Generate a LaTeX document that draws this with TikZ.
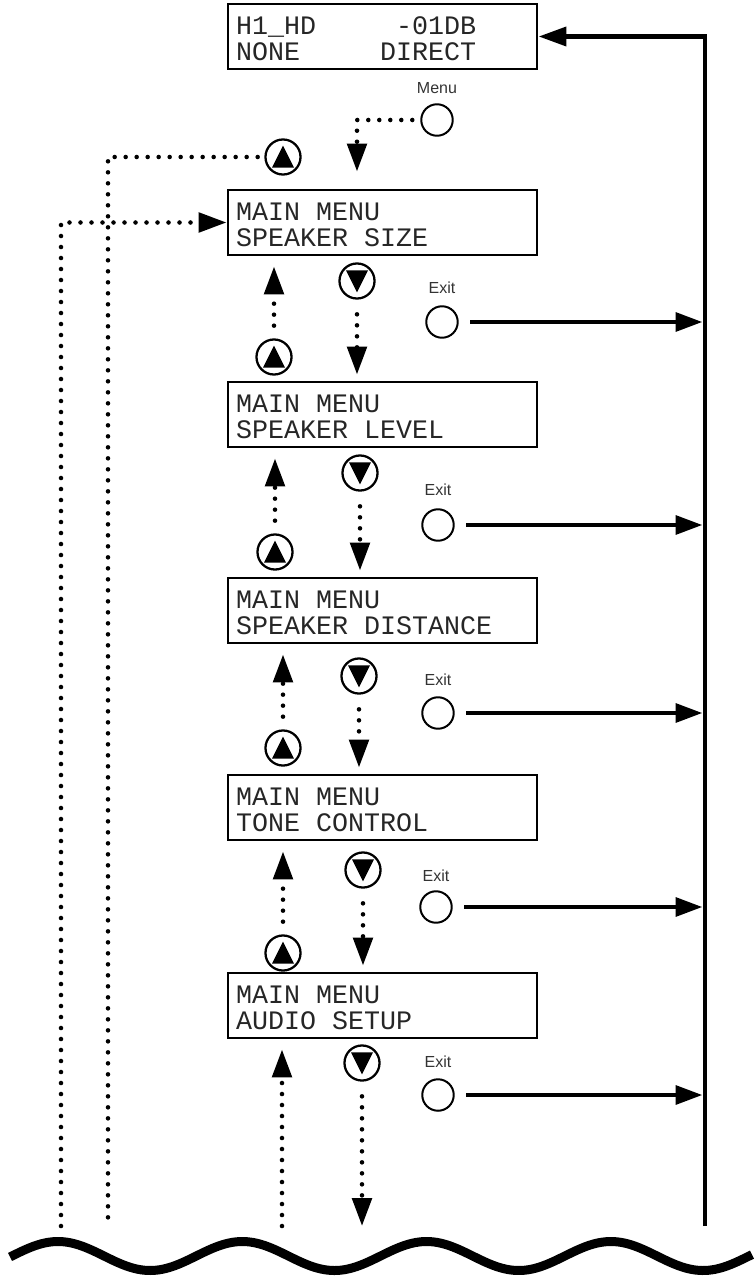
\documentclass[tikz,border=0pt]{standalone}
\usepackage{fontspec}
\setmainfont{Liberation Sans}
\newfontfamily\lcdfont{Liberation Mono}
\newcommand\lcdsp{\hspace*{12pt}}
\usetikzlibrary{arrows.meta}

\begin{document}
\begin{tikzpicture}[x=0.75pt, y=-0.75pt,
    lcd/.style={draw, line width=2.2pt, rectangle, text width=219.75pt,
        minimum height=48.75pt, inner xsep=6pt, align=left, text height=17pt,
        text=black!85, font=\lcdfont\fontsize{20}{19.5}\selectfont},
    key/.style={draw, circle, line width=1.5pt, minimum size=23.6pt, inner sep=0pt},
    btn/.style={draw, circle, line width=1.7pt, minimum size=26.3pt, inner sep=0pt},
    upbtn/.style={btn, path picture={\fill ([yshift=8.6pt]path picture bounding box.center)
        -- ++(-8.25pt,-16.5pt) -- ++(16.5pt,0pt) -- cycle;}},
    dnbtn/.style={btn, path picture={\fill ([yshift=-8.6pt]path picture bounding box.center)
        -- ++(-8.25pt,16.5pt) -- ++(16.5pt,0pt) -- cycle;}},
    lbl/.style={font=\fontsize{12}{14}\selectfont, text=black!80},
    dots/.style={line width=3.4pt, line cap=round, dash pattern=on 0pt off 8.25pt},
    dotarrow/.style={dots, -{Triangle[length=21pt, width=14.5pt]}},
    back/.style={line width=3.6pt, -{Triangle[length=21pt, width=14pt]}},
    exitarrow/.style={line width=3pt, -{Triangle[length=20pt, width=14pt]}}
]
    \useasboundingbox (0,0) rectangle (755,1277);
    % display screens
    \node[lcd] (lcd0) at (382.5,36.5) {H1\_HD\phantom{00000}-01DB\\NONE\phantom{00000}DIRECT};
    \node[lcd] (lcd1) at (382.5,222.5) {MAIN\lcdsp MENU\\SPEAKER\lcdsp SIZE};
    \node[lcd] (lcd2) at (382.5,414.5) {MAIN\lcdsp MENU\\SPEAKER\lcdsp LEVEL};
    \node[lcd] (lcd3) at (382.5,610.5) {MAIN\lcdsp MENU\\SPEAKER\lcdsp DISTANCE};
    \node[lcd] (lcd4) at (382.5,807.5) {MAIN\lcdsp MENU\\TONE\lcdsp CONTROL};
    \node[lcd] (lcd5) at (382.5,1005.5) {MAIN\lcdsp MENU\\AUDIO\lcdsp SETUP};
    % keys
    \node[lbl] (menulbl) at (437,88) {Menu};
    \node[key] (menu) at (437,120) {};
    \node[upbtn] (uptop) at (283,157) {};
    \node[upbtn] (up1) at (274,357) {};
    \node[dnbtn] (dn1) at (357,281) {};
    \node[lbl] (exitlbl1) at (442,288) {Exit};
    \node[key] (exit1) at (442,322) {};
    \node[upbtn] (up2) at (275,552) {};
    \node[dnbtn] (dn2) at (360,473) {};
    \node[lbl] (exitlbl2) at (438,490) {Exit};
    \node[key] (exit2) at (438,525) {};
    \node[upbtn] (up3) at (283,748) {};
    \node[dnbtn] (dn3) at (359,676) {};
    \node[lbl] (exitlbl3) at (438,680) {Exit};
    \node[key] (exit3) at (438,713) {};
    \node[upbtn] (up4) at (283,953) {};
    \node[dnbtn] (dn4) at (363,870) {};
    \node[lbl] (exitlbl4) at (436,876) {Exit};
    \node[key] (exit4) at (436,907) {};
    \node[dnbtn] (dn5) at (362,1063) {};
    \node[lbl] (exitlbl5) at (438,1062) {Exit};
    \node[key] (exit5) at (438,1095) {};
    % loose ends above the break
    \coordinate (rbot) at (705,1226);
    \coordinate (lft1) at (61,1226);
    \coordinate (lft2) at (108,1226);
    \coordinate (bup) at (282,1226);
    \coordinate (bdn) at (362,1226);
    % return line
    \draw[back] (rbot) |- (lcd0);
    \draw[exitarrow, shorten <=8.5pt, shorten >=2pt] (exit1) to (exit1 -| rbot);
    \draw[exitarrow, shorten <=8.5pt, shorten >=2pt] (exit2) to (exit2 -| rbot);
    \draw[exitarrow, shorten <=8.5pt, shorten >=2pt] (exit3) to (exit3 -| rbot);
    \draw[exitarrow, shorten <=8.5pt, shorten >=2pt] (exit4) to (exit4 -| rbot);
    \draw[exitarrow, shorten <=8.5pt, shorten >=2pt] (exit5) to (exit5 -| rbot);
    % menu entry and wrap-around
    \draw[dotarrow, shorten <=6pt, shorten >=12.75pt] (menu) -| (dn1 |- lcd1.north);
    \draw[dots, shorten <=5pt] (uptop) -| (lft2);
    \draw[dotarrow] (lft1) |- (lcd1);
    % up / down steps
    \draw[dotarrow, shorten <=9.5pt, shorten >=7.5pt] (up1) to (up1 |- lcd1.south);
    \draw[dotarrow, shorten <=11pt, shorten >=4.5pt] (dn1) to (dn1 |- lcd2.north);
    \draw[dotarrow, shorten <=9.5pt, shorten >=7.5pt] (up2) to (up2 |- lcd2.south);
    \draw[dotarrow, shorten <=11pt, shorten >=4.5pt] (dn2) to (dn2 |- lcd3.north);
    \draw[dotarrow, shorten <=9.5pt, shorten >=7.5pt] (up3) to (up3 |- lcd3.south);
    \draw[dotarrow, shorten <=11pt, shorten >=4.5pt] (dn3) to (dn3 |- lcd4.north);
    \draw[dotarrow, shorten <=9.5pt, shorten >=7.5pt] (up4) to (up4 |- lcd4.south);
    \draw[dotarrow, shorten <=11pt, shorten >=4.5pt] (dn4) to (dn4 |- lcd5.north);
    \draw[dotarrow, shorten >=7.5pt] (bup) to (bup |- lcd5.south);
    \draw[dotarrow, shorten <=11pt] (dn5) to (bdn);
    % break line
    \draw[line width=6.75pt] plot[domain=10:752, samples=120, smooth]
        (\x, {1256 - 14.5*cos(1.9533*(\x-58))});
\end{tikzpicture}
\end{document}
